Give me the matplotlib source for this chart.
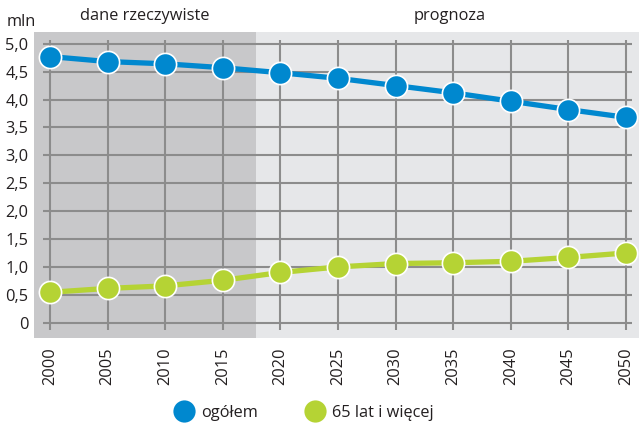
import matplotlib
matplotlib.use("Agg")
import matplotlib.pyplot as plt
from matplotlib.lines import Line2D

years = [2000, 2005, 2010, 2015, 2020, 2025, 2030, 2035, 2040, 2045, 2050]
ogolem = [4.77, 4.68, 4.64, 4.57, 4.48, 4.38, 4.25, 4.12, 3.97, 3.82, 3.68]
senior = [0.545, 0.615, 0.66, 0.76, 0.90, 1.00, 1.06, 1.075, 1.10, 1.17, 1.25]
y_ticks = [0, 0.5, 1.0, 1.5, 2.0, 2.5, 3.0, 3.5, 4.0, 4.5, 5.0]
y_labels = ["0", "0,5", "1,0", "1,5", "2,0", "2,5", "3,0", "3,5", "4,0", "4,5", "5,0"]
split_year = 2017.9

BLUE = "#0088cf"
GREEN = "#b5d334"
DARK_BG = "#c8c8ca"
LIGHT_BG = "#e6e7e9"
GRID = "#8c8c8c"
TXT = "#231f20"
FS = 11.8

plt.rcParams['font.family'] = ['Open Sans', 'DejaVu Sans']

fig = plt.figure(figsize=(6.39, 4.23), dpi=100)
ax = fig.add_axes([34 / 639, 1 - 338 / 423, 1 - 34 / 639, (338 - 32) / 423])

xmin, xmax = 1998.61, 2051.13
ymin, ymax = -0.274, 5.21
ax.set_xlim(xmin, xmax)
ax.set_ylim(ymin, ymax)
ax.set_facecolor(LIGHT_BG)
ax.axvspan(xmin, split_year, color=DARK_BG, lw=0, zorder=0)

# grid (extends slightly past the data range, like ticks)
ax.vlines(years, -0.13, 5.07, color=GRID, lw=1.5, zorder=1)
ax.hlines(y_ticks, 1999.39, 2050.52, color=GRID, lw=1.5, zorder=1)

ax.plot(years, ogolem, color=BLUE, lw=3.8, marker='o', ms=16,
        mfc=BLUE, mec='white', mew=1.2, zorder=3)
ax.plot(years, senior, color=GREEN, lw=3.8, marker='o', ms=16,
        mfc=GREEN, mec='white', mew=1.2, zorder=3)

for s in ax.spines.values():
    s.set_visible(False)
ax.set_xticks(years)
ax.set_xticklabels([str(y) for y in years], rotation=90, fontsize=FS, color=TXT)
ax.set_yticks(y_ticks)
ax.set_yticklabels(y_labels, fontsize=FS, color=TXT)
ax.tick_params(length=0)
ax.tick_params(axis='x', pad=7)
ax.tick_params(axis='y', pad=4)

fig.text(7 / 639, 1 - 22 / 423, "mln", fontsize=FS, color=TXT, va='center', ha='left')
fig.text(145 / 639, 1 - 16 / 423, "dane rzeczywiste", fontsize=FS, color=TXT,
         va='center', ha='center')
fig.text(450 / 639, 1 - 16 / 423, "prognoza", fontsize=FS, color=TXT,
         va='center', ha='center')

handles = [
    Line2D([], [], ls='none', marker='o', ms=16, mfc=BLUE, mec='none'),
    Line2D([], [], ls='none', marker='o', ms=16, mfc=GREEN, mec='none'),
]
fig.legend(handles, ["ogółem", "65 lat i więcej"], loc='center',
           bbox_to_anchor=(304 / 639, 1 - 413 / 423), ncol=2, frameon=False,
           fontsize=FS, labelcolor=TXT, handletextpad=0.45,
           columnspacing=2.9, handlelength=1.2)

fig.savefig("out.png", dpi=100)
